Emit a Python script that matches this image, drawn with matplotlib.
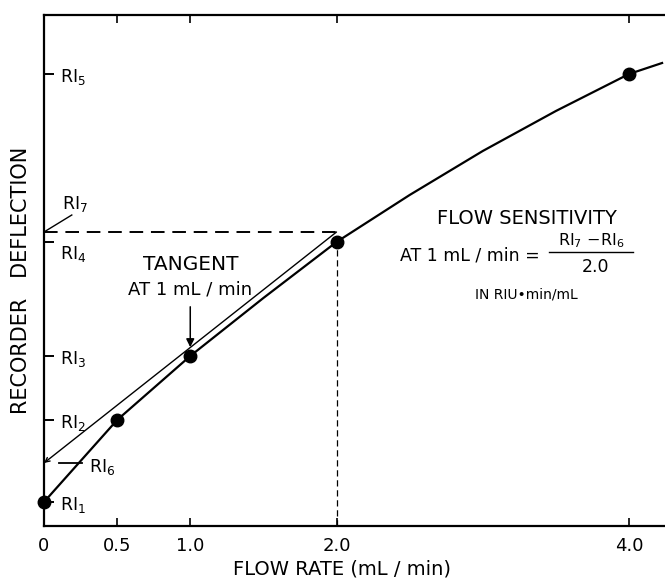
import matplotlib.pyplot as plt
from matplotlib.transforms import blended_transform_factory

# measured points (flow rate in mL/min, deflection in arbitrary units)
flow_pts = [0.0, 0.5, 1.0, 2.0, 4.0]
defl_pts = [0.24, 1.06, 1.70, 2.84, 4.52]

# curve traced through the points
curve_x = [0.0, 0.5, 1.0, 1.5, 2.0, 2.5, 3.0, 3.5, 4.0, 4.226]
curve_y = [0.24, 1.06, 1.70, 2.28, 2.84, 3.31, 3.75, 4.15, 4.52, 4.63]

# tangent at 1 mL/min, from RI6 (x=0) to RI7 (x=2)
ri6 = 0.63
ri7 = 2.94

ri_names = ["1", "2", "3", "4", "5"]
xtick_vals = [0, 0.5, 1.0, 2.0, 4.0]
xtick_labels = ["0", "0.5", "1.0", "2.0", "4.0"]

plt.rcParams['font.family'] = ['DejaVu Sans']

fig = plt.figure(figsize=(6.65, 5.83), dpi=100)
ax = fig.add_axes((44 / 665, 57 / 583, 621 / 665, 511 / 583))
ax.set_xlim(0, 4.246)
ax.set_ylim(0, 5.11)

for s in ['left', 'bottom', 'top']:
    ax.spines[s].set_linewidth(1.6)
ax.spines['right'].set_visible(False)

ax.plot(curve_x, curve_y, color='black', lw=1.6, zorder=3)
ax.plot(flow_pts, defl_pts, 'o', color='black', ms=9, zorder=4, clip_on=False)
# tangent line with a small arrowhead at the axis
ax.annotate("", xy=(0.0, ri6), xytext=(2.0, ri7),
            arrowprops=dict(arrowstyle='->', color='black', lw=1.0,
                            mutation_scale=8, shrinkA=0, shrinkB=0))

# dashed guides
ax.plot([0, 2.0], [ri7, ri7], color='black', lw=1.4, dashes=(7, 4))
ax.plot([2.0, 2.0], [0, defl_pts[3]], color='black', lw=0.9, dashes=(5, 3))
ax.plot([0.1, 0.26], [ri6, ri6], color='black', lw=1.3)

# ticks
ax.set_xticks(xtick_vals)
ax.set_xticklabels(xtick_labels, fontsize=13)
ax.tick_params(axis='x', direction='in', length=6, width=1.2, top=True, pad=8)
ax.set_yticks(defl_pts)
ax.set_yticklabels([])
ax.tick_params(axis='y', direction='in', length=7, width=1.4)

# RI labels next to the y ticks
trans = blended_transform_factory(ax.transAxes, ax.transData)
for name, v in zip(ri_names, defl_pts):
    dy = -0.12 if name == "4" else -0.03
    ax.text(0.026, v + dy, r"RI$_{\mathrm{%s}}$" % name, transform=trans,
            fontsize=12.5, va='center', ha='left')

ax.plot([0, 0.19], [ri7, 3.11], color='black', lw=1.0)
ax.text(0.12, 3.22, r"RI$_{\mathrm{7}}$", fontsize=12.5, va='center', ha='left')
ax.text(0.31, ri6 - 0.04, r"RI$_{\mathrm{6}}$", fontsize=12.5, va='center', ha='left')

# tangent annotation
ax.text(1.0, 2.61, "TANGENT", fontsize=14.5, ha='center', va='center')
ax.text(1.0, 2.36, "AT 1 mL / min", fontsize=13, ha='center', va='center')
ax.annotate("", xy=(1.0, 1.76), xytext=(1.0, 2.22),
            arrowprops=dict(arrowstyle='-|>', color='black', lw=1.1,
                            mutation_scale=12))

# flow sensitivity formula
ax.text(3.30, 3.07, "FLOW SENSITIVITY", fontsize=14, ha='center', va='center')
ax.text(3.39, 2.71, "AT 1 mL / min =", fontsize=12.5, ha='right', va='center')
ax.text(3.74, 2.85, r"RI$_{\mathrm{7}}$ $-$RI$_{\mathrm{6}}$", fontsize=11.5,
        ha='center', va='center')
ax.plot([3.45, 4.03], [2.74, 2.74], color='black', lw=1.0)
ax.text(3.77, 2.59, "2.0", fontsize=12.5, ha='center', va='center')
ax.text(3.30, 2.31, "IN RIU\u2022min/mL", fontsize=10, ha='center', va='center')

fig.text(21 / 665, 1 - 280 / 583, "RECORDER   DEFLECTION", rotation=90,
         fontsize=15, ha='center', va='center')
fig.text(342 / 665, 1 - 569 / 583, "FLOW RATE (mL / min)", fontsize=14,
         ha='center', va='center')

fig.savefig('out.png', dpi=100)
